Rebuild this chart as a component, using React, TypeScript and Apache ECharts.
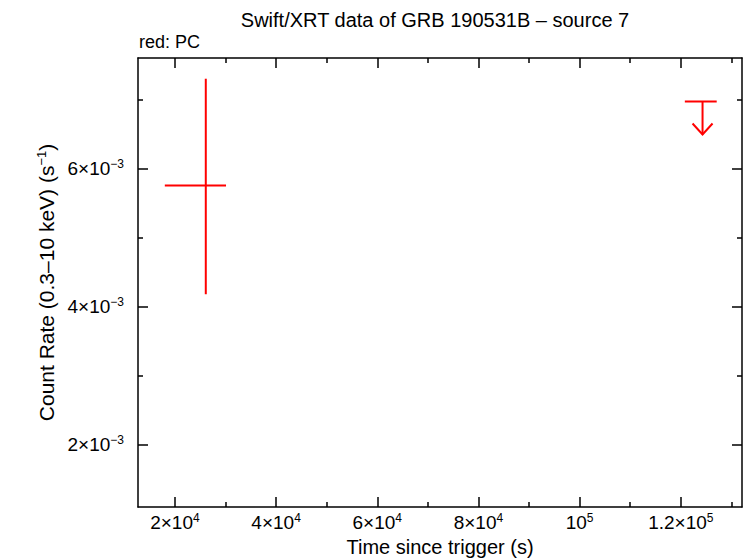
import React, { useEffect, useRef } from "react";
import * as echarts from "echarts";

// PC detection
const pcTime = [26100];
const pcTimeLo = [18000];
const pcTimeHi = [30100];
const pcRate = [0.005755];
const pcRateLo = [0.00418];
const pcRateHi = [0.0073];

// PC upper limit
const ulTime = [124300];
const ulTimeLo = [120800];
const ulTimeHi = [127100];
const ulRate = [0.00697];

const xMajor = [20000, 40000, 60000, 80000, 100000, 120000];
const xMinor = [30000, 50000, 70000, 90000, 110000, 130000];
const xLabels: Record<number, string> = {
  20000: "{b|2×10}{s|4}",
  40000: "{b|4×10}{s|4}",
  60000: "{b|6×10}{s|4}",
  80000: "{b|8×10}{s|4}",
  100000: "{b|10}{s|5}",
  120000: "{b|1.2×10}{s|5}",
};
const yMajor = [0.002, 0.004, 0.006];
const yMinor = [0.003, 0.005, 0.007];
const yLabels: Record<string, string> = {
  "0.002": "{b|2×10}{s|−3}",
  "0.004": "{b|4×10}{s|−3}",
  "0.006": "{b|6×10}{s|−3}",
};

const X_MIN = 12700;
const X_MAX = 132100;
const Y_MIN = 0.0011;
const Y_MAX = 0.0076;

const FONT = "Liberation Sans, Arial, Helvetica, sans-serif";
const RED = "#ff0000";

const rich = {
  b: { fontSize: 19, fontFamily: FONT, color: "#000" },
  s: { fontSize: 12, fontFamily: FONT, color: "#000", padding: [0, 0, 9, 0] },
};

function mkX(pos: "bottom" | "top", ticks: number[], len: number, labels: boolean, line: boolean) {
  return {
    type: "value",
    position: pos,
    min: X_MIN,
    max: X_MAX,
    splitLine: { show: false },
    axisLine: { show: line, onZero: false, lineStyle: { color: "#000", width: 1.5 } },
    axisTick: { show: true, inside: true, length: len, customValues: ticks, lineStyle: { color: "#000", width: 1.5 } },
    axisLabel: labels
      ? {
          show: true,
          customValues: ticks,
          margin: 5,
          fontSize: 19,
          fontFamily: FONT,
          color: "#000",
          formatter: (v: number) => xLabels[Math.round(v)] || "",
          rich,
        }
      : { show: false },
  };
}

function mkY(pos: "left" | "right", ticks: number[], len: number, labels: boolean, line: boolean) {
  return {
    type: "value",
    position: pos,
    min: Y_MIN,
    max: Y_MAX,
    splitLine: { show: false },
    axisLine: { show: line, onZero: false, lineStyle: { color: "#000", width: 1.5 } },
    axisTick: { show: true, inside: true, length: len, customValues: ticks, lineStyle: { color: "#000", width: 1.5 } },
    axisLabel: labels
      ? {
          show: true,
          customValues: ticks,
          margin: 14,
          fontSize: 19,
          fontFamily: FONT,
          color: "#000",
          formatter: (v: number) => yLabels[v.toFixed(3)] || "",
          rich,
        }
      : { show: false },
  };
}

export default function App() {
  const ref = useRef<HTMLDivElement>(null);
  useEffect(() => {
    if (!ref.current) return;
    const chart = echarts.init(ref.current, null, { renderer: "svg" });
    const pcData = pcTime.map((t, i) => [t, pcTimeLo[i], pcTimeHi[i], pcRate[i], pcRateLo[i], pcRateHi[i]]);
    const ulData = ulTime.map((t, i) => [t, ulTimeLo[i], ulTimeHi[i], ulRate[i]]);
    const ls = { stroke: RED, lineWidth: 2 };
    chart.setOption({
      animation: false,
      backgroundColor: "#fff",
      textStyle: { fontFamily: FONT },
      grid: { left: 138, top: 58, right: 4, bottom: 51, containLabel: false },
      graphic: [
        {
          type: "text",
          x: 435,
          y: 20,
          style: {
            text: "Swift/XRT data of GRB 190531B – source 7",
            font: `20px ${FONT}`,
            fill: "#000",
            align: "center",
            verticalAlign: "middle",
          },
        },
        {
          type: "text",
          x: 139,
          y: 42,
          style: {
            text: "red: PC",
            font: `18px ${FONT}`,
            fill: "#000",
            align: "left",
            verticalAlign: "middle",
          },
        },
        {
          type: "text",
          x: 440,
          y: 547,
          style: {
            text: "Time since trigger (s)",
            font: `20px ${FONT}`,
            fill: "#000",
            align: "center",
            verticalAlign: "middle",
          },
        },
      ],
      xAxis: [
        mkX("bottom", xMajor, 10, true, true),
        mkX("bottom", xMinor, 5, false, false),
        mkX("top", xMajor, 10, false, true),
        mkX("top", xMinor, 5, false, false),
      ],
      yAxis: [
        {
          ...mkY("left", yMajor, 10, true, true),
          name: "{b|Count Rate (0.3–10 keV) (s}{s|−1}{b|)}",
          nameLocation: "middle",
          nameGap: 80,
          nameRotate: 90,
          nameTextStyle: {
            fontSize: 21,
            fontFamily: FONT,
            color: "#000",
            rich: {
              b: { fontSize: 21, fontFamily: FONT, color: "#000" },
              s: { fontSize: 13, fontFamily: FONT, color: "#000", padding: [0, 0, 10, 0] },
            },
          },
        },
        mkY("left", yMinor, 5, false, false),
        mkY("right", yMajor, 10, false, true),
        mkY("right", yMinor, 5, false, false),
      ],
      series: [
        {
          type: "custom",
          xAxisIndex: 0,
          yAxisIndex: 0,
          data: pcData,
          encode: { x: [0, 1, 2], y: [3, 4, 5] },
          renderItem: (params: any, api: any) => {
            const x = api.value(0), xl = api.value(1), xh = api.value(2);
            const y = api.value(3), yl = api.value(4), yh = api.value(5);
            const a = api.coord([xl, y]);
            const b = api.coord([xh, y]);
            const c = api.coord([x, yl]);
            const d = api.coord([x, yh]);
            return {
              type: "group",
              children: [
                { type: "line", shape: { x1: a[0], y1: a[1], x2: b[0], y2: b[1] }, style: ls },
                { type: "line", shape: { x1: c[0], y1: c[1], x2: d[0], y2: d[1] }, style: ls },
              ],
            };
          },
        },
        {
          type: "custom",
          xAxisIndex: 0,
          yAxisIndex: 0,
          data: ulData,
          encode: { x: [0, 1, 2], y: [3] },
          renderItem: (params: any, api: any) => {
            const x = api.value(0), xl = api.value(1), xh = api.value(2);
            const y = api.value(3);
            const a = api.coord([xl, y]);
            const b = api.coord([xh, y]);
            const p = api.coord([x, y]);
            const tipY = p[1] + 33;
            return {
              type: "group",
              children: [
                { type: "line", shape: { x1: a[0], y1: a[1], x2: b[0], y2: b[1] }, style: ls },
                { type: "line", shape: { x1: p[0], y1: p[1], x2: p[0], y2: tipY }, style: ls },
                {
                  type: "polyline",
                  shape: { points: [[p[0] - 10, tipY - 11], [p[0], tipY], [p[0] + 10, tipY - 11]] },
                  style: { ...ls, fill: "none" },
                },
              ],
            };
          },
        },
      ],
    });
    return () => chart.dispose();
  }, []);
  return <div ref={ref} style={{ width: 746, height: 558, position: "absolute", left: 0, top: 0 }} />;
}
